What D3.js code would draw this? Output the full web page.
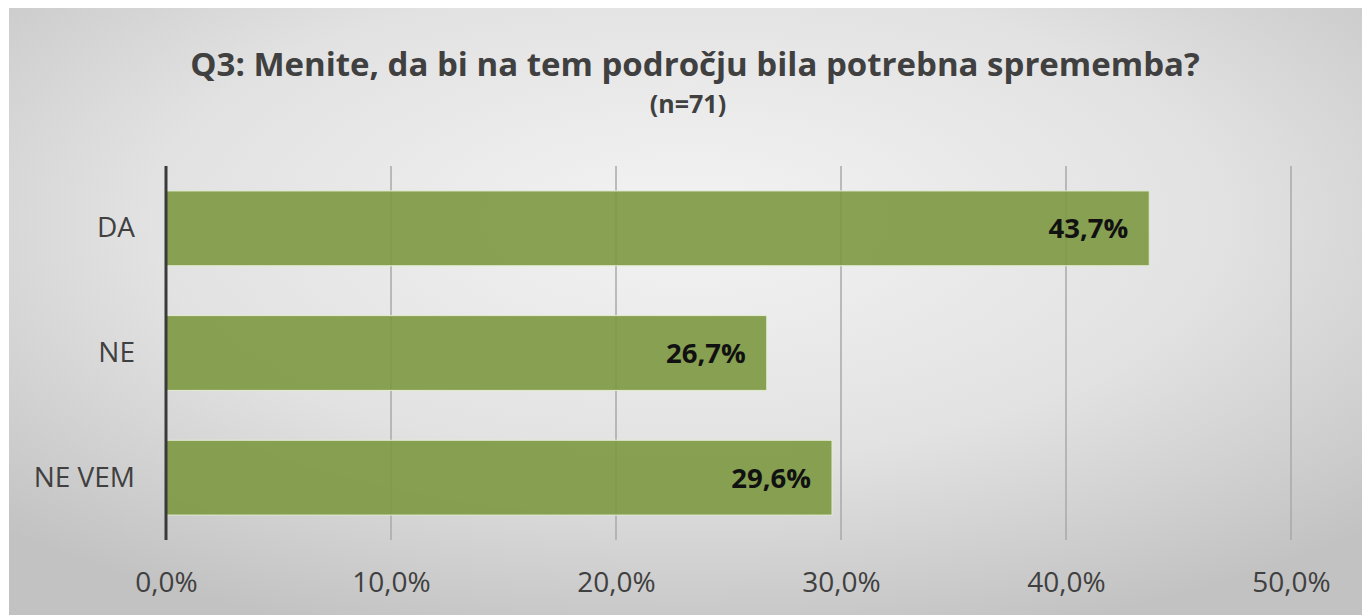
<!DOCTYPE html>
<html>
<head>
<meta charset="utf-8">
<script src="https://cdn.jsdelivr.net/npm/d3@7"></script>
<style>
  html, body { margin: 0; padding: 0; background: #ffffff; }
  svg { display: block; }
  text { font-family: "Open Sans", "Noto Sans", sans-serif; }
</style>
</head>
<body>
<svg id="chart" width="1362" height="615"></svg>
<script>
// Survey answers (share of respondents, %)
const categories = ["DA", "NE", "NE VEM"];
const values = [43.7, 26.7, 29.6];
const tickValues = [0, 10, 20, 30, 40, 50];
const titleText = "Q3: Menite, da bi na tem področju bila potrebna sprememba?";
const subtitleText = "(n=71)";

const W = 1362, H = 615;
const margin = { left: 166, right: 71, top: 166, bottom: 75 };

const svg = d3.select("#chart");

// Soft grey backdrop, lighter towards the upper centre
const defs = svg.append("defs");
const grad = defs.append("radialGradient")
  .attr("id", "bg")
  .attr("cx", "50%").attr("cy", "35%").attr("r", "72%");
grad.append("stop").attr("offset", "0%").attr("stop-color", "#f3f3f3");
grad.append("stop").attr("offset", "55%").attr("stop-color", "#e2e2e2");
grad.append("stop").attr("offset", "100%").attr("stop-color", "#c2c2c2");

svg.append("rect")
  .attr("x", 9).attr("y", 8)
  .attr("width", W - 9).attr("height", H - 8)
  .attr("fill", "url(#bg)");

const x = d3.scaleLinear()
  .domain([0, 50])
  .range([margin.left, W - margin.right]);

const y = d3.scaleBand()
  .domain(categories)
  .range([margin.top, H - margin.bottom])
  .paddingInner(0.4)
  .paddingOuter(0.2);

const plotTop = margin.top, plotBottom = H - margin.bottom;

// Vertical gridlines
svg.append("g")
  .selectAll("line")
  .data(tickValues.filter(d => d > 0))
  .join("line")
  .attr("x1", d => x(d)).attr("x2", d => x(d))
  .attr("y1", plotTop).attr("y2", plotBottom)
  .attr("stroke", "#a9a9a9")
  .attr("stroke-width", 1.5);

// Bars
svg.append("g")
  .selectAll("rect")
  .data(categories)
  .join("rect")
  .attr("x", x(0))
  .attr("y", d => y(d))
  .attr("width", (d, i) => x(values[i]) - x(0))
  .attr("height", y.bandwidth())
  .attr("fill", "#7c9841")
  .attr("fill-opacity", 0.9)
  .attr("stroke", "#e4ecd2")
  .attr("stroke-width", 1);

// Value labels, right-aligned inside the bar ends
svg.append("g")
  .selectAll("text")
  .data(categories)
  .join("text")
  .attr("x", (d, i) => x(values[i]) - 21)
  .attr("y", d => y(d) + y.bandwidth() / 2)
  .attr("dy", "0.36em")
  .attr("text-anchor", "end")
  .attr("font-size", 27.5)
  .attr("font-weight", 700)
  .attr("fill", "#111111")
  .text((d, i) => values[i].toFixed(1).replace(".", ",") + "%");

// Category axis
const yAxis = svg.append("g")
  .attr("transform", `translate(${x(0)},0)`)
  .call(d3.axisLeft(y).tickSize(0).tickPadding(31));
yAxis.select(".domain").remove();
yAxis.selectAll("text")
  .attr("font-size", 28)
  .attr("fill", "#404040")
  .attr("font-family", "\"Open Sans\", sans-serif");

svg.append("line")
  .attr("x1", x(0)).attr("x2", x(0))
  .attr("y1", plotTop).attr("y2", plotBottom)
  .attr("stroke", "#3a3a3a")
  .attr("stroke-width", 3);

// Value axis labels
const xAxis = svg.append("g")
  .attr("transform", `translate(0,${plotBottom})`)
  .call(d3.axisBottom(x)
    .tickValues(tickValues)
    .tickSize(0)
    .tickPadding(32)
    .tickFormat(d => d.toFixed(1).replace(".", ",") + "%"));
xAxis.select(".domain").remove();
xAxis.selectAll("text")
  .attr("font-size", 28)
  .attr("fill", "#404040")
  .attr("font-family", "\"Open Sans\", sans-serif");

// Title
svg.append("text")
  .attr("x", 695).attr("y", 76)
  .attr("text-anchor", "middle")
  .attr("font-size", 33)
  .attr("font-weight", 700)
  .attr("fill", "#404040")
  .text(titleText);

svg.append("text")
  .attr("x", 688).attr("y", 113)
  .attr("text-anchor", "middle")
  .attr("font-size", 25)
  .attr("font-weight", 700)
  .attr("fill", "#404040")
  .text(subtitleText);
</script>
</body>
</html>
